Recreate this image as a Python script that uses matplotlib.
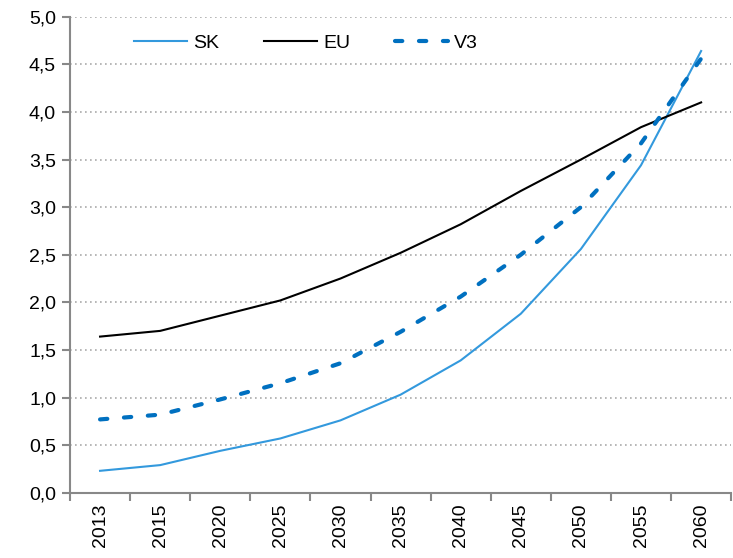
import matplotlib
matplotlib.use("Agg")
import matplotlib.pyplot as plt
import numpy as np

years = ["2013", "2015", "2020", "2025", "2030", "2035", "2040", "2045", "2050", "2055", "2060"]
sk = [0.23, 0.29, 0.44, 0.57, 0.76, 1.03, 1.39, 1.88, 2.56, 3.44, 4.64]
eu = [1.64, 1.70, 1.86, 2.02, 2.25, 2.52, 2.82, 3.17, 3.50, 3.84, 4.10]
v3 = [0.77, 0.82, 0.98, 1.15, 1.36, 1.69, 2.06, 2.50, 3.00, 3.67, 4.56]
yticks = [0.0, 0.5, 1.0, 1.5, 2.0, 2.5, 3.0, 3.5, 4.0, 4.5, 5.0]

plt.rcParams['font.family'] = ['Liberation Sans', 'DejaVu Sans']

fig = plt.figure(figsize=(7.33, 5.58), dpi=100)
ax = fig.add_axes([0.0955, 0.117, 0.902, 0.853])

x = np.arange(len(years))
ax.plot(x, sk, color='#3399dd', lw=1.5, label='SK')
ax.plot(x, eu, color='black', lw=1.5, label='EU')
ax.plot(x, v3, color='#0070c0', lw=3, ls=(0, (1.75, 4.0)), dash_capstyle='round',
        label='V3')

ax.set_xlim(-0.5, len(years) - 0.5)
ax.set_ylim(0, 5)
ax.set_yticks(yticks)
ax.set_yticklabels([f"{v:.1f}".replace('.', ',') for v in yticks], fontsize=14)
ax.set_xticks(x)
ax.set_xticklabels(years, rotation=90, fontsize=14)
ax.set_xticks(np.arange(-0.5, len(years)), minor=True)
ax.tick_params(axis='x', which='major', length=0, pad=8)
ax.tick_params(axis='x', which='minor', length=6, width=1.5, color='#888888')
ax.tick_params(axis='y', length=6, width=1.5, color='#888888', pad=4)

ax.grid(axis='y', color='#aaaaaa', ls=(0, (1, 2)), lw=1.2)
ax.set_axisbelow(True)
for s in ['top', 'right']:
    ax.spines[s].set_visible(False)
for s in ['left', 'bottom']:
    ax.spines[s].set_color('#888888')
    ax.spines[s].set_linewidth(1.5)

ax.legend(loc='upper left', bbox_to_anchor=(0.07, 1.0), ncol=3, frameon=False,
          fontsize=14, handlelength=2.75, columnspacing=2.3, handletextpad=0.3)

fig.savefig('out.png', dpi=100)
